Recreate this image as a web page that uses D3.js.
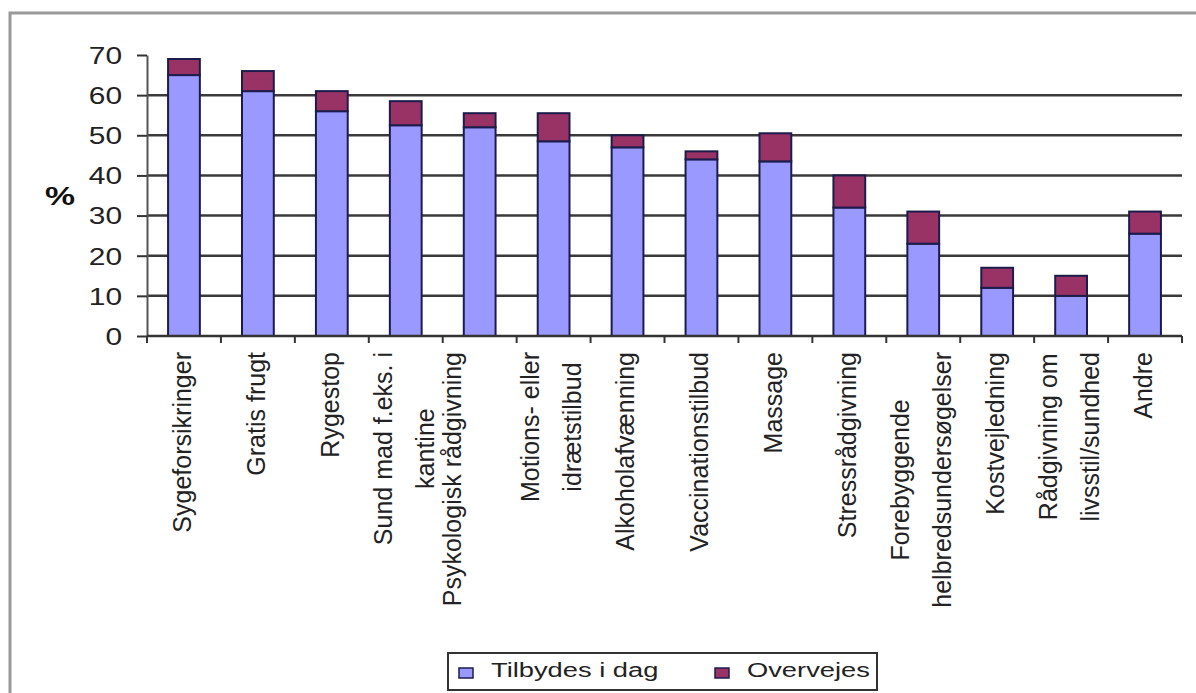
<!DOCTYPE html>
<html>
<head>
<meta charset="utf-8">
<script src="https://cdn.jsdelivr.net/npm/d3@7"></script>
<style>
  body { margin: 0; background: #fff; }
  text { font-family: "Liberation Sans", Arial, sans-serif; fill: #111; }
</style>
</head>
<body>
<div id="body"></div>
<script>
// kategorier, evt. delt i to linjer som i originalen
var categories = [
    ["Sygeforsikringer"],
    ["Gratis frugt"],
    ["Rygestop"],
    ["Sund mad f.eks. i", "kantine"],
    ["Psykologisk rådgivning"],
    ["Motions- eller", "idrætstilbud"],
    ["Alkoholafvænning"],
    ["Vaccinationstilbud"],
    ["Massage"],
    ["Stressrådgivning"],
    ["Forebyggende", "helbredsundersøgelser"],
    ["Kostvejledning"],
    ["Rådgivning om", "livsstil/sundhed"],
    ["Andre"]
];
var tilbydes = [65, 61, 56, 52.5, 52, 48.5, 47, 44, 43.5, 32, 23, 12, 10, 25.5];
var overvejes = [4, 5, 5, 6, 3.5, 7, 3, 2, 7, 8, 8, 5, 5, 5.5];
var yTicks = [0, 10, 20, 30, 40, 50, 60, 70];
var gridTicks = [10, 20, 30, 40, 50, 60];
var seriesNames = ["Tilbydes i dag", "Overvejes"];
var seriesColors = ["#9999ff", "#993366"];

function RenderChart() {
    var width = 1196,
        height = 693,
        stretch = 1.3; // billedet er strakt vandret

    var svg = d3.select("#body").append("svg")
        .attr("width", width)
        .attr("height", height);

    // ydre ramme
    svg.append("rect")
        .attr("x", 10).attr("y", 13)
        .attr("width", 1300).attr("height", 800)
        .attr("fill", "none")
        .attr("stroke", "#999")
        .attr("stroke-width", 3);

    var ids = categories.map(function (d, i) { return "c" + i; });

    var x = d3.scaleBand()
        .domain(ids)
        .range([147, 1182])
        .paddingInner(0.57)
        .paddingOuter(0.285);

    var y = d3.scaleLinear()
        .domain([0, 70])
        .range([336, 55]);

    // gitterlinjer
    svg.append("g")
        .selectAll("line")
        .data(gridTicks)
        .enter().append("line")
        .attr("x1", x.range()[0]).attr("x2", x.range()[1])
        .attr("y1", function (d) { return y(d); })
        .attr("y2", function (d) { return y(d); })
        .attr("stroke", "#3a3a3a")
        .attr("stroke-width", 2.5);

    // y-akse
    var yAxis = svg.append("g")
        .attr("transform", "translate(" + x.range()[0] + ",0)")
        .call(d3.axisLeft(y).tickValues(yTicks).tickSize(10).tickSizeOuter(0));
    yAxis.select(".domain").attr("stroke", "#555").attr("stroke-width", 2);
    yAxis.selectAll(".tick line").attr("stroke", "#333").attr("stroke-width", 2);
    yAxis.selectAll(".tick text")
        .attr("x", -25 / stretch)
        .attr("dy", "0.36em")
        .attr("transform", "scale(" + stretch + ",1)")
        .style("font-size", "23px")
        .style("fill", "#222");

    svg.append("text")
        .attr("transform", "translate(45,205) scale(" + stretch + ",1)")
        .style("font-size", "26px")
        .style("font-weight", "bold")
        .text("%");

    // stablede søjler
    var stack = ids.map(function (id, i) {
        return [
            { id: id, y0: 0, y1: tilbydes[i], s: 0 },
            { id: id, y0: tilbydes[i], y1: tilbydes[i] + overvejes[i], s: 1 }
        ];
    });

    var g = svg.selectAll(".bar")
        .data(stack)
        .enter().append("g")
        .attr("class", "bar");

    g.selectAll("rect")
        .data(function (d) { return d; })
        .enter().append("rect")
        .attr("x", function (d) { return x(d.id); })
        .attr("width", x.bandwidth())
        .attr("y", function (d) { return y(d.y1); })
        .attr("height", function (d) { return y(d.y0) - y(d.y1); })
        .attr("fill", function (d) { return seriesColors[d.s]; })
        .attr("stroke", "#1c1c4c")
        .attr("stroke-width", 2);

    // x-akse
    var x0 = x.range()[0], step = x.step();
    svg.append("line")
        .attr("x1", x0).attr("x2", x.range()[1])
        .attr("y1", y(0)).attr("y2", y(0))
        .attr("stroke", "#333").attr("stroke-width", 2.5);
    svg.append("g")
        .selectAll("line")
        .data(d3.range(categories.length + 1))
        .enter().append("line")
        .attr("x1", function (i) { return x0 + i * step; })
        .attr("x2", function (i) { return x0 + i * step; })
        .attr("y1", y(0)).attr("y2", y(0) + 7)
        .attr("stroke", "#333").attr("stroke-width", 2);

    // roterede kategorietiketter
    var lineGap = 42, topY = 352;
    categories.forEach(function (lines, i) {
        var cx = x(ids[i]) + x.bandwidth() / 2 - 2;
        if (i == 4) cx -= 25;
        var lab = svg.append("g");
        var texts = lines.map(function (t, j) {
            var off = (j - (lines.length - 1) / 2) * lineGap;
            return lab.append("text")
                .attr("dy", "0.35em")
                .attr("text-anchor", "middle")
                .style("font-size", "25px")
                .style("fill", "#222")
                .datum(cx + off)
                .text(t);
        });
        var maxLen = d3.max(texts, function (t) { return t.node().getComputedTextLength(); });
        texts.forEach(function (t) {
            t.attr("transform", "translate(" + t.datum() + "," + (topY + maxLen / 2) + ") rotate(-90)");
        });
    });

    // forklaring
    var leg = svg.append("g");
    leg.append("rect")
        .attr("x", 448).attr("y", 653)
        .attr("width", 429).attr("height", 37)
        .attr("fill", "#fff")
        .attr("stroke", "#333").attr("stroke-width", 2);
    var legX = [459, 715];
    seriesNames.forEach(function (n, i) {
        leg.append("rect")
            .attr("x", legX[i]).attr("y", 668)
            .attr("width", 14).attr("height", 10)
            .attr("fill", seriesColors[i])
            .attr("stroke", "#1c1c4c").attr("stroke-width", 1.5);
        leg.append("text")
            .attr("transform", "translate(" + (legX[i] + 32) + ",677) scale(" + stretch + ",1)")
            .style("font-size", "21px")
            .style("fill", "#222")
            .text(n);
    });
}

RenderChart();
</script>
</body>
</html>
